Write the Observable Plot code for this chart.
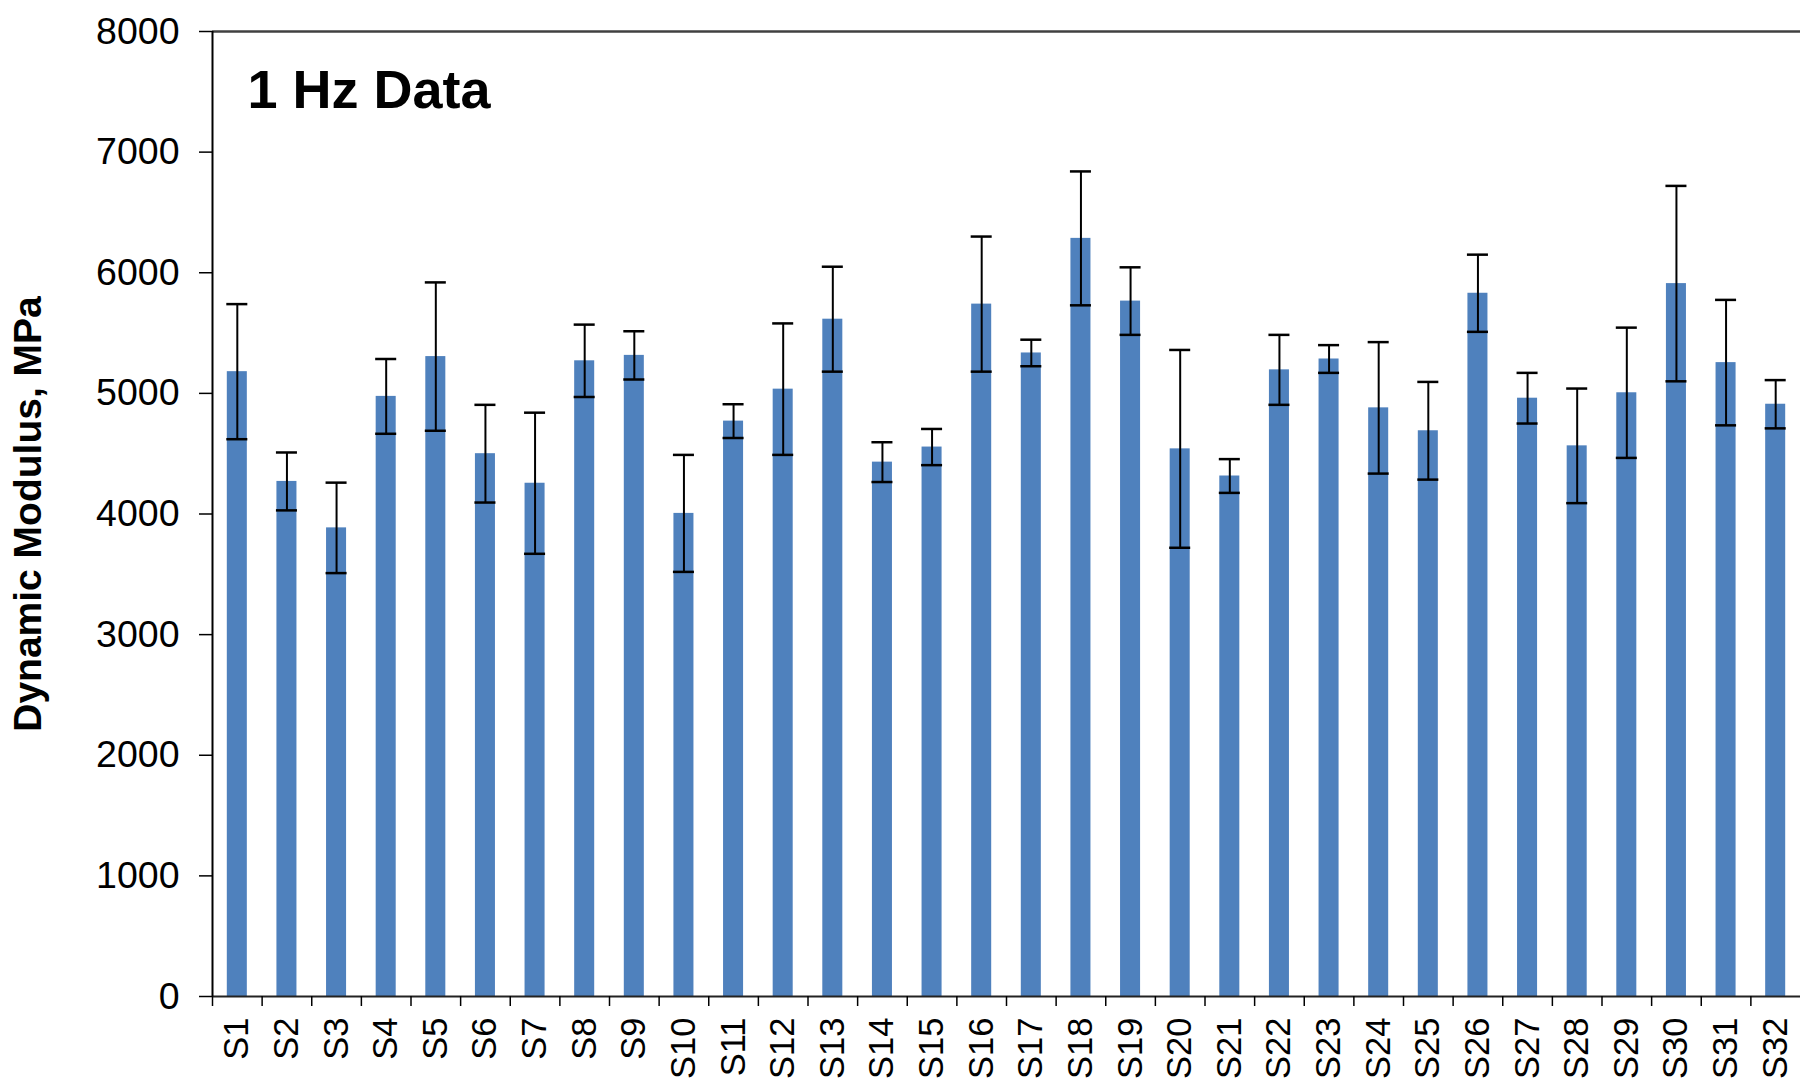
<!DOCTYPE html>
<html>
<head>
<meta charset="utf-8">
<script src="https://cdn.jsdelivr.net/npm/d3@7"></script>
<script src="https://cdn.jsdelivr.net/npm/@observablehq/plot@0.6"></script>
<style>
  html, body { margin: 0; padding: 0; background: #fff; overflow: hidden; }
  #chart { width: 1800px; height: 1081px; overflow: hidden; }
</style>
</head>
<body>
<div id="chart"></div>
<script>
const samples = ["S1","S2","S3","S4","S5","S6","S7","S8","S9","S10","S11","S12","S13","S14","S15","S16",
                 "S17","S18","S19","S20","S21","S22","S23","S24","S25","S26","S27","S28","S29","S30","S31","S32"];
const modulus = [5180,4270,3885,4975,5305,4500,4255,5270,5315,4005,4770,5035,5615,4430,4555,5740,
                 5335,6285,5765,4540,4315,5195,5285,4880,4690,5830,4960,4565,5005,5910,5255,4910];
const errorSd = [560,240,375,310,615,405,585,300,200,485,140,545,435,165,150,560,
                 110,555,280,820,140,290,115,545,405,320,210,475,540,810,520,200];
const yTicks = [0,1000,2000,3000,4000,5000,6000,7000,8000];
const chartTitle = "1 Hz Data";
const yTitle = "Dynamic Modulus, MPa";

const data = samples.map((s, i) => ({s, v: modulus[i], e: errorSd[i]}));

const W = 1800, H = 1081, mL = 212, mR = 0;
const step = (W - mL - mR) / samples.length;
const font = "'Liberation Sans', Arial, Helvetica, sans-serif";

const chart = Plot.plot({
  width: W, height: H,
  marginTop: 31, marginBottom: 85, marginLeft: mL, marginRight: mR,
  style: {fontFamily: font, fontSize: "36px", background: "white", color: "black", overflow: "hidden"},
  x: {domain: samples, padding: 0, round: false, axis: null},
  y: {domain: [0, 8000], axis: null},
  marks: [
    Plot.barY(data, {x: "s", y: "v", fill: "#4F81BD", insetLeft: 14.8, insetRight: 14.8}),
    Plot.ruleX(data, {x: "s", y1: d => d.v - d.e, y2: d => d.v + d.e, stroke: "black", strokeWidth: 2}),
    Plot.tickY(data, {x: "s", y: d => d.v + d.e, stroke: "black", strokeWidth: 2.5, insetLeft: 14.3, insetRight: 14.3}),
    Plot.tickY(data, {x: "s", y: d => d.v - d.e, stroke: "black", strokeWidth: 2.5, insetLeft: 14.3, insetRight: 14.3}),
    Plot.ruleY([8000], {stroke: "#404040", strokeWidth: 2.5}),
    Plot.ruleY([0], {stroke: "#222", strokeWidth: 2}),
    Plot.ruleX([samples[0]], {dx: -step / 2, stroke: "black", strokeWidth: 2}),
    Plot.axisY({ticks: yTicks, tickSize: 13, tickPadding: 20, fontSize: 37.5, tickFormat: d3.format("d"), label: null, strokeWidth: 1.5}),
    Plot.axisX({tickSize: 10, dx: -step / 2, tickFormat: () => "", label: null, strokeWidth: 1.5}),
    Plot.axisX({tickSize: 0, tickRotate: -90, tickPadding: 21, fontSize: 34.5, label: null}),
    Plot.text([chartTitle], {frameAnchor: "top-left", dx: 35, dy: 38, lineAnchor: "top", textAnchor: "start",
                             fontSize: 54, fontWeight: "bold", fill: "black"}),
    Plot.text([yTitle], {frameAnchor: "left", rotate: -90, textAnchor: "middle", dx: -184, fontSize: 39, fontWeight: "bold", fill: "black"})
  ]
});
document.getElementById("chart").appendChild(chart);
</script>
</body>
</html>
